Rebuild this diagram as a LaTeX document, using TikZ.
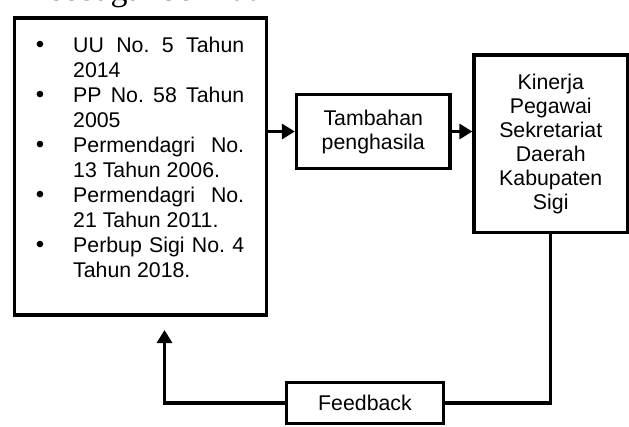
\documentclass[tikz,border=0pt]{standalone}
\usepackage{fontspec}
\setmainfont{Liberation Sans}
\newfontfamily\serifx{Liberation Serif}
\usetikzlibrary{arrows.meta}
\begin{document}
\frenchspacing
\begin{tikzpicture}[x=1pt,y=-1pt,
  box/.style={draw, line width=3.3pt, inner sep=0pt, align=center, font=\fontsize{21.3}{24}\selectfont},
  conn/.style={line width=3.3pt, -{Triangle[length=13pt,width=15pt]}},
  plain/.style={line width=3.3pt},
  txt/.style={anchor=base west, inner sep=0pt, font=\fontsize{21.3}{25}\selectfont},
  bul/.style={anchor=base, inner sep=0pt, font=\fontsize{24}{25}\selectfont}]
\useasboundingbox (0,0) rectangle (629,426);
\node[anchor=base west, inner sep=0pt, font=\serifx\fontsize{34}{40}\selectfont] (intro) at (50,0) {sebagai berikut};
\node[box, minimum width=252pt, minimum height=297pt] (law) at (140.5,166.5) {};
\foreach \t [count=\i] in {{\makebox[171pt][s]{UU No. 5 Tahun}}, 2014, {\makebox[171pt][s]{PP No. 58 Tahun}}, 2005, {\makebox[171pt][s]{Permendagri No.}}, 13 Tahun 2006., {\makebox[171pt][s]{Permendagri No.}}, 21 Tahun 2011., {\makebox[171pt][s]{Perbup Sigi No. 4}}, Tahun 2018.}
  \node[txt] (l\i) at (73, 27+25*\i) {\t};
\foreach \b [count=\j] in {1,3,5,7,9}
  \node[bul] (b\j) at (40, 27+25*\b) {•};
\node[box, minimum width=153.5pt, minimum height=74pt] (tam) at (373.25,131.5) {Tambahan\\penghasila};
\node[box, minimum width=153.5pt, minimum height=177.5pt] (kin) at (550.75,143.75) {Kinerja\\Pegawai\\Sekretariat\\Daerah\\Kabupaten\\Sigi};
\node[box, minimum width=157pt, minimum height=41pt] (fb) at (365,403) {\raisebox{-2pt}{Feedback}};
\coordinate (tip) at (164.5,330);
\draw[conn] (law.east |- tam.west) -- (tam.west);
\draw[conn] (tam.east) -- (tam.east -| kin.west);
\draw[plain] (kin.south) |- (fb.east);
\draw[conn] (fb.west) -| (tip);
\end{tikzpicture}
\end{document}
